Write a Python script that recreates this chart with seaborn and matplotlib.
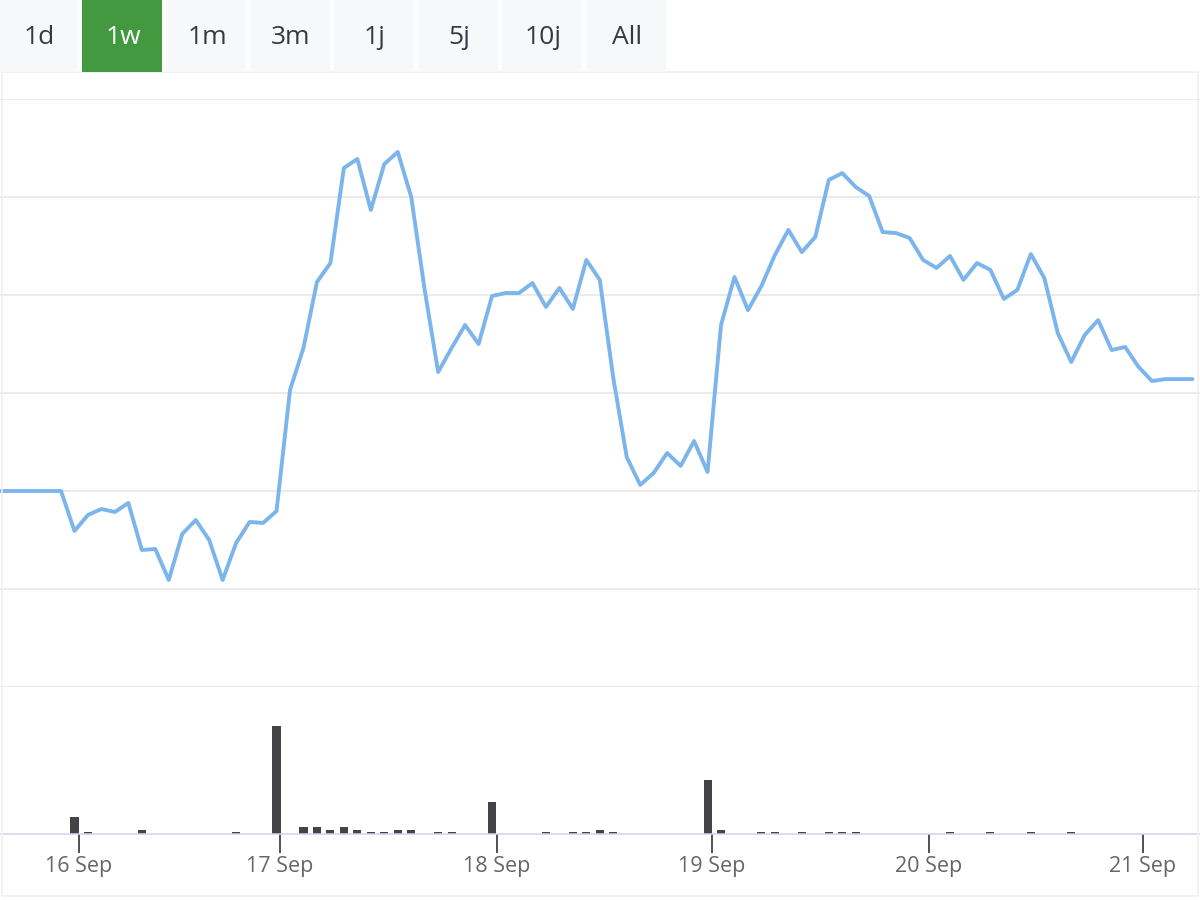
import numpy as np
import pandas as pd
import seaborn as sns
import matplotlib.pyplot as plt
from matplotlib.patches import Rectangle

# range selector buttons
buttons = ["1d", "1w", "1m", "3m", "1j", "5j", "10j", "All"]
active_button = "1w"

# price series (one point every 90 minutes, ordinal index)
price_idx = list(range(-5, 85))
price = [12.000, 12.000, 12.000, 12.000, 12.000, 12.000,
         11.796, 11.878, 11.908, 11.893, 11.939, 11.699, 11.704, 11.546,
         11.781, 11.852, 11.750, 11.546, 11.735, 11.842, 11.837, 11.898,
         12.515, 12.730, 13.066, 13.163, 13.648, 13.694, 13.434, 13.668,
         13.730, 13.500, 13.026, 12.607, 12.730, 12.847, 12.750, 12.995,
         13.010, 13.010, 13.061, 12.939, 13.036, 12.929, 13.179, 13.077,
         12.577, 12.173, 12.031, 12.092, 12.194, 12.128, 12.255, 12.097,
         12.847, 13.092, 12.923, 13.046, 13.204, 13.332, 13.219, 13.296,
         13.587, 13.622, 13.551, 13.505, 13.321, 13.316, 13.291, 13.179,
         13.138, 13.199, 13.077, 13.163, 13.128, 12.980, 13.026, 13.209,
         13.087, 12.806, 12.658, 12.796, 12.872, 12.719, 12.735, 12.633,
         12.561, 12.571, 12.571, 12.571]

# traded volume
vol_idx = [1, 2, 6, 13, 16, 18, 19, 20, 21, 22, 23, 24, 25, 26, 28, 29, 32,
           36, 38, 39, 40, 41, 48, 49, 52, 53, 55, 57, 58, 59, 66, 69, 72, 75]
volume = [1660, 220, 430, 220, 10800, 670, 670, 430, 670, 430, 220, 220,
          430, 430, 220, 220, 3200, 220, 220, 220, 430, 220, 5400, 430,
          220, 220, 220, 220, 220, 220, 220, 220, 220, 220]

# date labels and their positions on the ordinal axis
tick_pos = [1.34, 16.26, 32.37, 48.33, 64.44, 80.33]
tick_labels = ["16 Sep", "17 Sep", "18 Sep", "19 Sep", "20 Sep", "21 Sep"]

df_price = pd.DataFrame({"idx": price_idx, "price": price})
df_vol = pd.DataFrame({"idx": vol_idx, "volume": volume})

sns.set_style("white")
plt.rcParams["font.family"] = ["Open Sans", "DejaVu Sans"]

fig = plt.figure(figsize=(12, 9), dpi=100)
ax1 = fig.add_axes([0.0, 1 - 687 / 900, 1.0, (687 - 99) / 900])
ax2 = fig.add_axes([0.0, 1 - 834 / 900, 1.0, (834 - 687) / 900])

xmin, xmax = -4.53, 84.56

# price line
sns.lineplot(data=df_price, x="idx", y="price", ax=ax1, color="#7cb5ec",
             linewidth=2.8, solid_joinstyle="round", solid_capstyle="round")
ax1.set_xlim(xmin, xmax)
ax1.set_ylim(11.0, 14.0)
ax1.set_yticks(np.arange(11.0, 14.01, 0.5))
ax1.grid(axis="y", color="#e6e6e6", linewidth=1.1)
ax1.tick_params(left=False, bottom=False, labelleft=False, labelbottom=False)
ax1.set_xlabel("")
ax1.set_ylabel("")
for s in ax1.spines.values():
    s.set_visible(False)
ax1.patch.set_alpha(0)

# volume bars
sns.barplot(data=df_vol, x="idx", y="volume", ax=ax2, native_scale=True,
            color="#434348", width=0.6, errorbar=None, saturation=1,
            linewidth=0)
ax2.set_xlim(xmin, xmax)
ax2.set_ylim(0, 14700)
ax2.set_xticks(tick_pos)
ax2.set_xticklabels(tick_labels)
ax2.tick_params(axis="x", bottom=True, length=13.5, width=1.2,
                color="#333333", labelcolor="#666666", labelsize=15.5, pad=2)
ax2.tick_params(axis="y", left=False, labelleft=False)
ax2.set_xlabel("")
ax2.set_ylabel("")
for name, s in ax2.spines.items():
    s.set_visible(name == "bottom")
ax2.spines["bottom"].set_color("#ccd6eb")
ax2.spines["bottom"].set_linewidth(1.1)
ax2.patch.set_alpha(0)

# faint chart frame
fig.patches.append(Rectangle((2 / 1200, 4 / 900), 1196 / 1200, 824 / 900,
                             transform=fig.transFigure, fill=False,
                             edgecolor="#f0f0f0", linewidth=1.2, zorder=0))

# range selector
bw, gap, bh = 80, 4, 72
for i, lab in enumerate(buttons):
    x0 = i * (bw + gap) - 2 if i else -2
    on = lab == active_button
    fig.patches.append(Rectangle((x0 / 1200, 1 - bh / 900), bw / 1200, bh / 900,
                                 transform=fig.transFigure,
                                 facecolor="#43993f" if on else "#f7f8fa",
                                 edgecolor="none"))
    fig.text((x0 + bw / 2 + 1) / 1200, 1 - 37 / 900, lab,
             ha="center", va="center", fontsize=19,
             color="white" if on else "#333a40")

plt.savefig("out.png", dpi=100)
